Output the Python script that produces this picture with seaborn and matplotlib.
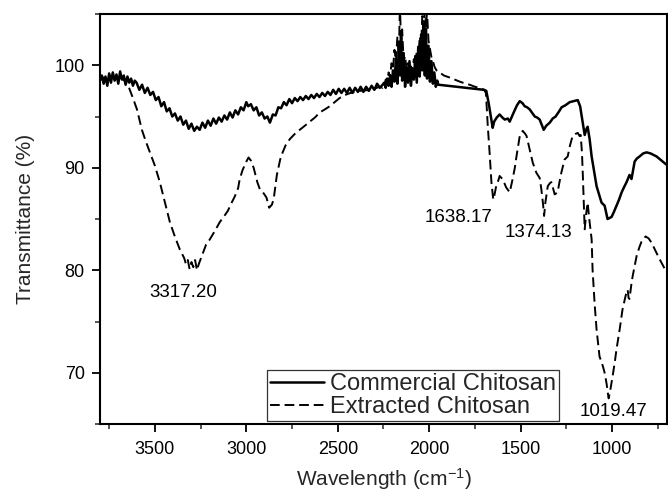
import matplotlib
matplotlib.use("Agg")
import matplotlib.pyplot as plt
from matplotlib.ticker import MultipleLocator
import pandas as pd
import seaborn as sns

# FTIR spectra of chitosan samples (wavenumber in cm^-1, transmittance in %)
commercial_wn = [
    3800, 3790, 3780, 3770, 3760, 3750, 3740, 3730, 3720, 3710, 3700, 3690, 3680,
    3670, 3660, 3650, 3640, 3630, 3620, 3610,
    3600, 3585, 3570, 3555, 3540, 3525, 3510, 3495, 3480, 3465, 3450, 3435, 3420,
    3405, 3390, 3375, 3360, 3345, 3330, 3315, 3300, 3285, 3270, 3255, 3240, 3225,
    3210, 3195, 3180, 3165, 3150, 3135, 3120, 3105, 3090, 3075, 3060, 3045, 3030,
    3015, 3000, 2990, 2975, 2960, 2945, 2930, 2915, 2900, 2885, 2871, 2855, 2840,
    2825, 2810, 2795, 2780, 2765, 2750, 2735, 2720, 2705, 2690, 2675, 2660, 2645,
    2630, 2615, 2600, 2585, 2570, 2555, 2540, 2525, 2510, 2495, 2480, 2465, 2450,
    2435, 2420, 2405, 2390, 2375, 2360, 2345, 2330, 2315, 2300, 2285, 2270, 2255,
    2246, 2238, 2230, 2222, 2214, 2206, 2198, 2190, 2182, 2174, 2166, 2160, 2154,
    2148, 2140, 2132, 2124, 2116, 2108, 2100, 2092, 2084, 2076, 2068, 2060, 2052,
    2044, 2038, 2030, 2024, 2018, 2012, 2004, 1996, 1988, 1980, 1972, 1964, 1956,
    1950,
    1900, 1850, 1800, 1750, 1700, 1688, 1675, 1660, 1653, 1645, 1631, 1615, 1600,
    1587, 1570, 1560, 1548, 1538, 1520, 1505, 1490, 1478, 1465, 1451, 1435, 1423,
    1410, 1396, 1385, 1374, 1360, 1341, 1325, 1309, 1290, 1276, 1255, 1232, 1210,
    1188, 1175, 1161, 1150, 1140, 1134, 1123, 1112, 1100, 1085, 1070, 1058, 1041,
    1025, 1003, 990, 976, 962, 948, 935, 921, 905, 894, 885, 877, 865, 850, 830,
    812, 790, 757, 730, 703,
]
commercial_t = [
    98.6, 99.0, 98.2, 98.9, 98.0, 99.2, 98.3, 99.3, 98.5, 99.1, 98.2, 99.4, 98.6,
    99.0, 98.1, 98.9, 98.3, 98.7, 98.0, 98.5,
    98.3, 97.6, 98.1, 97.3, 97.8, 97.1, 97.4, 96.6, 96.9, 96.0, 96.4, 95.5, 95.8,
    95.0, 95.3, 94.6, 95.0, 94.2, 94.6, 93.8, 94.3, 93.6, 94.0, 93.7, 94.4, 93.9,
    94.6, 94.1, 94.8, 94.3, 94.9, 94.5, 95.1, 94.7, 95.4, 94.9, 95.6, 95.2, 95.9,
    95.6, 96.4, 96.0, 96.2, 95.6, 95.9, 95.1, 95.4, 94.8, 95.0, 94.4, 95.2, 95.1,
    95.9, 95.8, 96.4, 96.1, 96.7, 96.3, 96.8, 96.5, 96.9, 96.6, 97.0, 96.7, 97.1,
    96.8, 97.2, 96.9, 97.3, 97.0, 97.4, 97.1, 97.6, 97.2, 97.7, 97.3, 97.7, 97.3,
    97.8, 97.3, 97.8, 97.4, 97.9, 97.4, 97.9, 97.5, 98.0, 97.6, 98.2, 97.8, 98.1,
    98.3, 97.8, 98.7, 98.0, 99.0, 97.9, 99.5, 98.4, 100.6, 98.2, 102.0, 99.0, 103.2,
    98.5, 101.2, 97.9, 99.8, 98.3, 100.4, 98.0, 99.6, 98.6, 100.9, 98.3, 101.8, 98.9,
    103.0, 99.5, 104.3, 99.0, 103.6, 98.7, 101.9, 98.4, 100.4, 98.2, 99.3, 97.9, 98.5,
    98.1,
    98.0, 97.9, 97.8, 97.7, 97.6, 97.5, 96.3, 94.7, 93.9, 94.5, 94.9, 95.2, 94.9,
    94.7, 94.8, 94.5, 95.0, 95.4, 96.1, 96.5, 96.3, 96.0, 95.9, 95.7, 95.3, 95.0,
    94.9, 94.7, 94.2, 93.7, 94.1, 94.4, 94.8, 95.0, 95.5, 95.9, 96.1, 96.4, 96.5,
    96.6, 96.0, 94.4, 93.2, 93.8, 94.0, 92.8, 91.1, 89.8, 88.2, 87.3, 86.6, 86.3,
    85.0, 85.2, 85.7, 86.3, 86.9, 87.6, 88.1, 88.6, 89.3, 88.9, 89.8, 90.6, 90.9,
    91.1, 91.4, 91.5, 91.4, 91.1, 90.7, 90.3,
]

extracted_wn = [
    3800, 3780, 3760, 3740, 3720, 3700, 3680, 3660, 3645, 3637, 3620, 3598, 3571,
    3550, 3527, 3500, 3473, 3445, 3418, 3391, 3363, 3340, 3330, 3320, 3310, 3300,
    3290, 3280, 3270, 3260, 3243, 3220, 3200, 3170, 3145, 3120, 3101, 3080, 3063,
    3045, 3036, 3020, 3000, 2988, 2975, 2960, 2940, 2926, 2905, 2890, 2875, 2860,
    2850, 2833, 2815, 2806, 2785, 2762, 2735, 2708, 2680, 2653, 2625, 2598, 2570,
    2544, 2517, 2490, 2460, 2430, 2380, 2320, 2270, 2255,
    2246, 2238, 2230, 2222, 2214, 2206, 2198, 2190, 2182, 2174, 2166, 2160, 2154,
    2148, 2140, 2132, 2124, 2116, 2108, 2100, 2092, 2084, 2076, 2068, 2060, 2052,
    2044, 2038, 2030, 2024, 2018, 2012, 2004, 1996, 1988, 1980, 1970, 1960,
    1943, 1920, 1888, 1860, 1833, 1800, 1779, 1750, 1724, 1700, 1690, 1680,
    1670, 1660, 1650, 1645, 1634, 1625, 1615, 1605, 1598, 1580, 1560, 1544, 1532,
    1523, 1505, 1489, 1475, 1468, 1451, 1434, 1414, 1396, 1387, 1378, 1372, 1365,
    1352, 1340, 1332, 1314, 1298, 1290, 1278, 1260, 1243, 1230, 1216, 1200, 1188,
    1178, 1172, 1165, 1160, 1150, 1142, 1134, 1125, 1112, 1107, 1096, 1085, 1069,
    1050, 1041, 1030, 1025, 1019, 1010, 997, 985, 976, 959, 943, 925, 915, 910,
    905, 895, 888, 866, 850, 839, 817, 800, 785, 760, 741, 720, 703,
]
extracted_t = [
    98.5, 98.8, 98.4, 99.0, 98.6, 98.9, 98.7, 98.4, 98.0, 97.6, 96.8, 95.7, 93.7,
    92.6, 91.5, 90.2, 88.6, 86.6, 84.7, 83.3, 82.0, 81.2, 80.6, 81.0, 80.1, 80.8,
    80.3, 81.0, 80.0, 80.6, 81.4, 82.5, 83.0, 83.9, 84.7, 85.3, 85.8, 86.6, 87.2,
    88.0, 88.9, 89.8, 90.6, 91.0, 90.7, 90.0, 88.6, 87.9, 87.5, 87.1, 86.1, 86.4,
    87.0, 89.3, 90.8, 91.3, 92.2, 92.8, 93.3, 93.7, 94.1, 94.5, 94.9, 95.4, 95.7,
    96.0, 96.4, 96.8, 97.1, 97.3, 97.5, 97.6, 97.9, 97.8,
    98.0, 98.6, 98.3, 99.3, 98.9, 100.2, 99.6, 101.5, 100.4, 102.8, 101.2, 106.0, 101.9,
    103.5, 100.4, 100.9, 99.6, 100.2, 99.3, 99.9, 99.5, 100.6, 99.9, 101.4, 100.6, 102.8,
    101.9, 104.8, 103.0, 106.0, 103.8, 105.2, 102.4, 101.6, 100.8, 100.4, 99.8, 99.5,
    99.3, 99.0, 98.8, 98.6, 98.4, 98.2, 98.1, 97.9, 97.8, 97.6, 97.3, 94.1,
    91.5, 88.6, 86.9, 87.2, 88.2, 88.6, 89.2, 89.0, 88.9, 88.1, 87.6, 88.9, 90.0,
    91.1, 93.1, 93.6, 93.3, 93.1, 91.8, 90.5, 89.5, 89.0, 87.9, 86.5, 85.3, 86.6,
    88.2, 88.5, 88.6, 87.4, 87.6, 88.4, 89.5, 90.8, 91.1, 92.2, 93.1, 93.3, 93.4,
    93.1, 93.2, 91.5, 89.2, 84.0, 85.5, 86.6, 85.0, 83.0, 80.1, 76.8, 74.2, 71.6,
    70.6, 70.0, 68.9, 68.2, 67.5, 68.3, 69.7, 71.1, 72.3, 74.2, 76.2, 77.6, 78.1,
    77.3, 77.2, 78.6, 79.4, 81.4, 82.3, 82.8, 83.3, 83.1, 82.7, 81.8, 81.1, 80.4, 79.8,
]

series_labels = ["Commercial Chitosan", "Extracted Chitosan"]

# peak annotations: text, x, y
peak_labels = ["3317.20", "1638.17", "1374.13", "1019.47"]
peak_label_x = [3347, 1842, 1405, 995]
peak_label_y = [77.8, 85.1, 83.7, 66.2]

sns.set_theme(style="ticks")
plt.rcParams["font.family"] = ["Liberation Sans", "DejaVu Sans"]
plt.rcParams["mathtext.default"] = "regular"

commercial = pd.DataFrame({"wn": commercial_wn, "t": commercial_t})
extracted = pd.DataFrame({"wn": extracted_wn, "t": extracted_t})

fig = plt.figure(figsize=(6.68, 4.91), dpi=100)
ax = fig.add_axes([100 / 668, 1 - 424 / 491, 567 / 668, 410 / 491])

sns.lineplot(data=commercial, x="wn", y="t", ax=ax, sort=False, estimator=None,
             color="black", lw=1.8, label=series_labels[0])
sns.lineplot(data=extracted, x="wn", y="t", ax=ax, sort=False, estimator=None,
             color="black", lw=1.4, linestyle=(0, (5, 2.5)), label=series_labels[1])

ax.set_xlim(3800, 700)
ax.set_ylim(65, 105)
ax.xaxis.set_major_locator(MultipleLocator(500))
ax.xaxis.set_minor_locator(MultipleLocator(250))
ax.yaxis.set_major_locator(MultipleLocator(10))
ax.yaxis.set_minor_locator(MultipleLocator(5))

ax.tick_params(axis="both", which="major", direction="out", length=6, width=1.3,
               labelsize=13, colors="black")
ax.tick_params(axis="x", which="major", pad=6)
ax.tick_params(axis="y", which="major", pad=5)
ax.tick_params(axis="both", which="minor", direction="out", length=3.5, width=1.1)
for side in ["top", "right", "bottom", "left"]:
    ax.spines[side].set_visible(True)
    ax.spines[side].set_linewidth(1.5)
    ax.spines[side].set_color("black")

ax.set_xlabel(r"Wavelength (cm$^{-1}$)", fontsize=15, labelpad=6)
ax.set_ylabel("Transmittance (%)", fontsize=15, labelpad=14)

for txt, px, py in zip(peak_labels, peak_label_x, peak_label_y):
    ax.text(px, py, txt, fontsize=13.5, ha="center", va="center", color="black")

leg = ax.legend(loc="lower left", bbox_to_anchor=(0.2945, 0.007), borderaxespad=0,
                fontsize=17, frameon=True, fancybox=False, edgecolor="black",
                handlelength=2.3, handletextpad=0.25, labelspacing=0.05,
                borderpad=0.12)
leg.get_frame().set_linewidth(0.9)

fig.savefig("out.png", dpi=100)
